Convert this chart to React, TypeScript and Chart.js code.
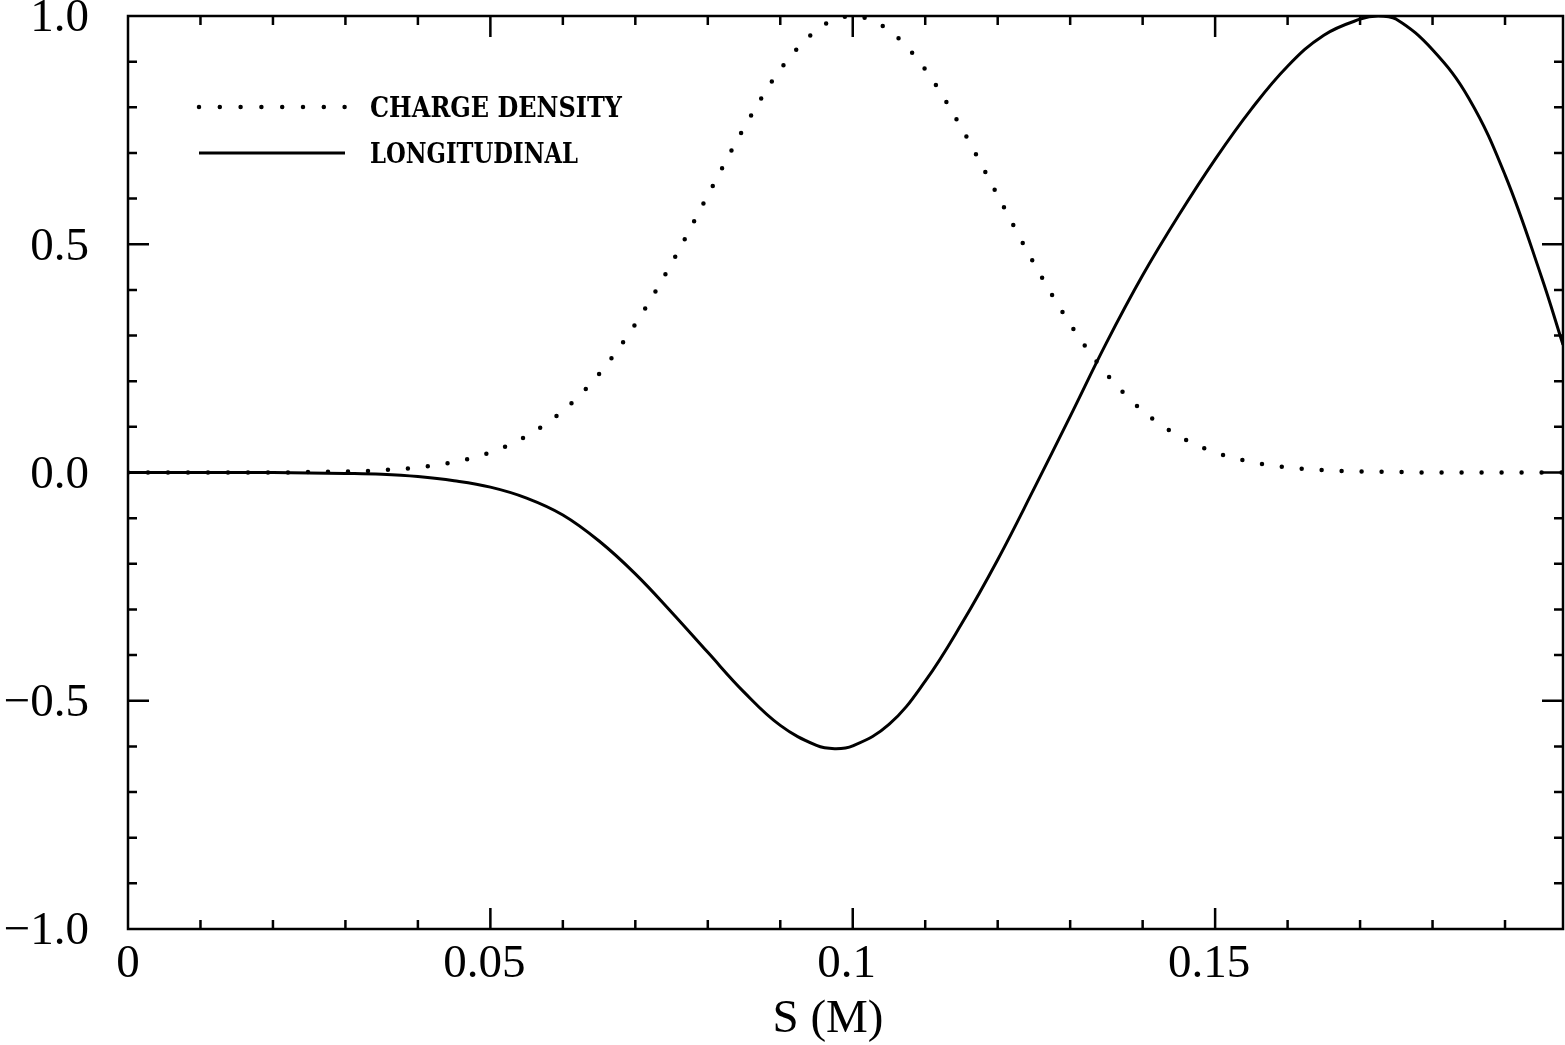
import React, { useEffect, useRef } from "react";
import { Chart, registerables } from "chart.js";

Chart.register(...registerables);

// Position along bunch, S (m)
const sValues = [
  0, 0.005, 0.01, 0.015, 0.02, 0.025, 0.03, 0.035, 0.04, 0.045, 0.05, 0.055, 0.06, 0.065,
  0.07, 0.075, 0.08, 0.085, 0.09, 0.095, 0.0975, 0.1, 0.105, 0.11, 0.115, 0.12, 0.125, 0.13,
  0.135, 0.14, 0.145, 0.15, 0.155, 0.16, 0.165, 0.17, 0.1725, 0.175, 0.18, 0.185, 0.19, 0.195, 0.198,
];

// Charge density (normalised)
const chargeDensity = [
  0, 0, 0, 0, 0, 0.001, 0.002, 0.005, 0.011, 0.023, 0.044, 0.08, 0.135, 0.216,
  0.325, 0.458, 0.607, 0.755, 0.883, 0.969, 0.992, 1.0, 0.969, 0.883, 0.755, 0.607, 0.458, 0.325,
  0.216, 0.135, 0.08, 0.044, 0.023, 0.011, 0.005, 0.002, 0.0015, 0.001, 0, 0, 0, 0, 0,
];

// Longitudinal wake (normalised)
const longitudinal = [
  0, 0, 0, 0, 0, -0.001, -0.002, -0.004, -0.009, -0.018, -0.032, -0.056, -0.093, -0.15,
  -0.222, -0.306, -0.394, -0.481, -0.554, -0.598, -0.605, -0.599, -0.552, -0.457, -0.332, -0.191, -0.036, 0.123,
  0.284, 0.432, 0.564, 0.686, 0.796, 0.89, 0.958, 0.993, 1.0, 0.993, 0.926, 0.82, 0.652, 0.43, 0.28,
];

const xTickValues = [0, 0.05, 0.1, 0.15];
const xTickLabels = ["0", "0.05", "0.1", "0.15"];
const yTickValues = [1, 0.5, 0, -0.5, -1];
const yTickLabels = ["1.0", "0.5", "0.0", "\u22120.5", "\u22121.0"];
const legendLabels = ["CHARGE DENSITY", "LONGITUDINAL"];
const xTitle = "S (M)";

const X_MIN = 0;
const X_MAX = 0.198;

function fitText(ctx: any, text: string, x: number, y: number, width: number) {
  const w = ctx.measureText(text).width;
  ctx.save();
  ctx.translate(x, y);
  ctx.scale(width / w, 1);
  ctx.fillText(text, 0, 0);
  ctx.restore();
}

const framePlugin = {
  id: "frame",
  afterDatasetsDraw(chart: any) {
    const { ctx, chartArea, scales } = chart;
    const xs = scales.x;
    const ys = scales.y;
    const { left, right, top, bottom } = chartArea;
    ctx.save();
    ctx.strokeStyle = "#000";
    ctx.fillStyle = "#000";
    ctx.lineWidth = 2.5;
    ctx.strokeRect(left, top, right - left, bottom - top);

    // ticks
    ctx.lineWidth = 2.5;
    const majLen = 21;
    const minLen = 9;
    const xMinor: number[] = [];
    for (let i = 1; i <= 19; i++) xMinor.push(i / 100);
    const yMinor: number[] = [];
    for (let i = -9; i <= 9; i++) yMinor.push(i / 10);
    ctx.beginPath();
    const drawX = (v: number, len: number) => {
      const px = xs.getPixelForValue(v);
      ctx.moveTo(px, bottom);
      ctx.lineTo(px, bottom - len);
      ctx.moveTo(px, top);
      ctx.lineTo(px, top + len);
    };
    const drawY = (v: number, len: number) => {
      const py = ys.getPixelForValue(v);
      ctx.moveTo(left, py);
      ctx.lineTo(left + len, py);
      ctx.moveTo(right, py);
      ctx.lineTo(right - len, py);
    };
    xMinor.forEach((v) => drawX(v, Math.abs(v * 20 - Math.round(v * 20)) < 1e-6 ? majLen : minLen));
    yMinor.forEach((v) => drawY(v, Math.abs(v * 2 - Math.round(v * 2)) < 1e-6 ? majLen : minLen));
    ctx.stroke();

    // tick labels
    ctx.font = "47px 'Liberation Serif'";
    ctx.textAlign = "center";
    ctx.textBaseline = "top";
    xTickValues.forEach((v, i) => {
      ctx.fillText(xTickLabels[i], xs.getPixelForValue(v) - (i === 0 ? 0 : 6), bottom + 12);
    });
    ctx.textAlign = "right";
    ctx.textBaseline = "middle";
    yTickValues.forEach((v, i) => {
      ctx.fillText(yTickLabels[i], left - 39, ys.getPixelForValue(v) + 3);
    });

    // axis title
    ctx.textAlign = "center";
    ctx.textBaseline = "middle";
    ctx.fillText(xTitle, 828, 1020);

    // legend
    ctx.lineCap = "round";
    ctx.lineWidth = 4.5;
    ctx.setLineDash([0, 20.8]);
    ctx.beginPath();
    ctx.moveTo(199, 107);
    ctx.lineTo(345, 107);
    ctx.stroke();
    ctx.setLineDash([]);
    ctx.lineCap = "butt";
    ctx.lineWidth = 3;
    ctx.beginPath();
    ctx.moveTo(199, 153);
    ctx.lineTo(345, 153);
    ctx.stroke();
    ctx.font = "bold 27px 'DejaVu Serif'";
    ctx.textAlign = "left";
    ctx.textBaseline = "middle";
    fitText(ctx, legendLabels[0], 370, 110, 252);
    fitText(ctx, legendLabels[1], 370, 156, 208);
    ctx.restore();
  },
};

export default function App() {
  const ref = useRef<HTMLCanvasElement | null>(null);
  useEffect(() => {
    document.body.style.margin = "0";
    const canvas = ref.current!;
    const chart = new Chart(canvas, {
      type: "line",
      data: {
        datasets: [
          {
            label: legendLabels[0],
            data: sValues.map((s, i) => ({ x: s, y: chargeDensity[i] })),
            borderColor: "#000",
            borderWidth: 4.5,
            borderDash: [0, 20],
            borderCapStyle: "round",
            pointRadius: 0,
            cubicInterpolationMode: "monotone",
            fill: false,
          },
          {
            label: legendLabels[1],
            data: sValues.map((s, i) => ({ x: s, y: longitudinal[i] })),
            borderColor: "#000",
            borderWidth: 3,
            pointRadius: 0,
            tension: 0.4,
            fill: false,
          },
        ],
      },
      options: {
        responsive: false,
        animation: false,
        devicePixelRatio: 1,
        layout: { padding: { left: 128, right: 2, top: 16, bottom: 116 } },
        plugins: { legend: { display: false }, tooltip: { enabled: false }, title: { display: false } },
        scales: {
          x: { type: "linear", min: X_MIN, max: X_MAX, display: false },
          y: { type: "linear", min: -1, max: 1, display: false },
        },
      },
      plugins: [framePlugin],
    } as any);
    return () => chart.destroy();
  }, []);
  return <canvas ref={ref} width={1565} height={1045} style={{ display: "block" }} />;
}
